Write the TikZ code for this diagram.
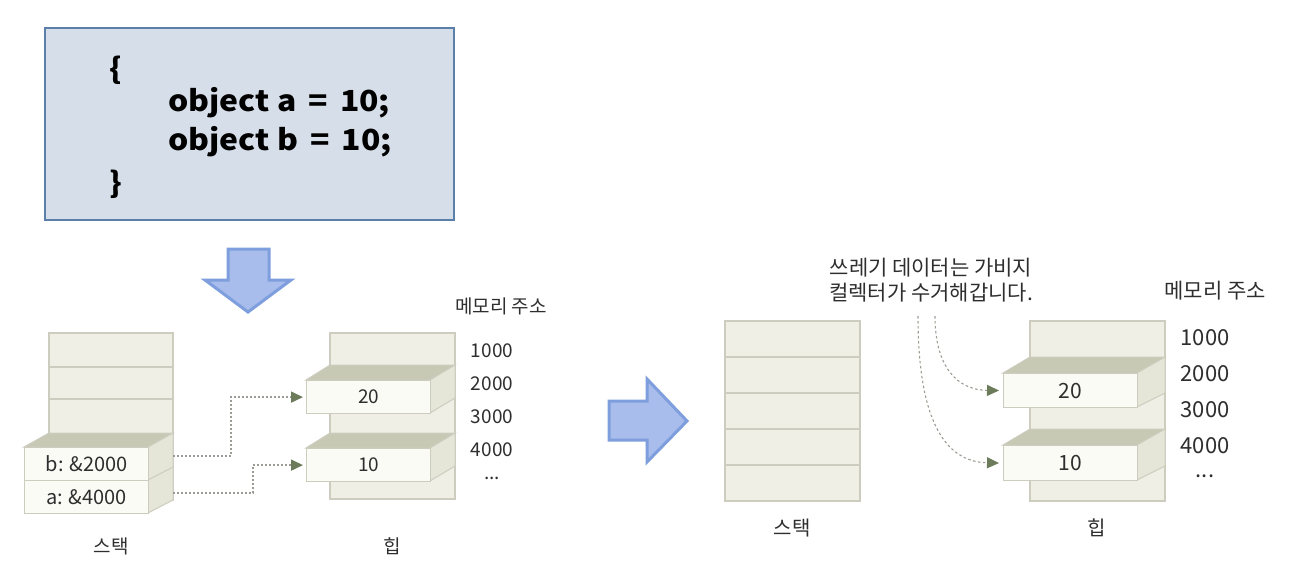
\documentclass[tikz,border=0pt]{standalone}
\usepackage{fontspec}
\setmainfont{Noto Sans CJK KR}
\usetikzlibrary{arrows.meta}
\definecolor{codefill}{HTML}{D6DFE9}
\definecolor{codeline}{HTML}{5A7FA8}
\definecolor{arrfill}{HTML}{A8BDEB}
\definecolor{arrline}{HTML}{7E9EDD}
\definecolor{stackfill}{HTML}{EFEFE6}
\definecolor{edgec}{HTML}{CDCDBF}
\definecolor{topc}{HTML}{C8C9B4}
\definecolor{sidec}{HTML}{E6E6D8}
\definecolor{frontc}{HTML}{FBFBF6}
\definecolor{txtc}{HTML}{2E2E2E}
\definecolor{tipc}{HTML}{6C7B5A}
\definecolor{dotc}{HTML}{9C9C94}
\tikzset{
  backbox/.style={fill=stackfill,draw=edgec,line width=1.2pt},
  topface/.style={fill=topc,draw=edgec,line width=1pt},
  sideface/.style={fill=sidec,draw=edgec,line width=1pt},
  frontface/.style={fill=frontc,draw=edgec,line width=1.2pt,inner sep=0pt,anchor=north west,text=txtc},
  lbl/.style={text=txtc,inner sep=0pt},
  codetext/.style={anchor=west,inner sep=0pt,font=\fontsize{29}{32}\selectfont\bfseries\addfontfeatures{FakeStretch=1.1}},
  bigarrow/.style={fill=arrfill,draw=arrline,line width=3pt,line join=miter},
  ptr/.style={draw=dotc,line width=1.6pt,dash pattern=on 2pt off 2pt,-{Triangle[length=12pt,width=11pt,fill=tipc,color=tipc]}},
  gcline/.style={draw=dotc,line width=1.1pt,dash pattern=on 2.5pt off 2.5pt,-{Triangle[length=12pt,width=11pt,fill=tipc,color=tipc]}},
}
\begin{document}
\begin{tikzpicture}[x=1pt,y=-1pt]
\useasboundingbox (0,0) rectangle (1290,571);
% code box
\node[draw=codeline,fill=codefill,line width=2pt,minimum width=409pt,minimum height=192pt,anchor=north west,inner sep=0pt] (code) at (44,27) {};
\node[codetext] (ob) at (109,70) {\{};
\node[codetext] (la) at (168,103) {object a \,=\, 10;};
\node[codetext] (lb) at (168,142) {object b \,=\, 10;};
\node[codetext] (cb) at (109,184) {\}};
% down arrow
\draw[bigarrow] (228,249) -- (269,249) -- (269,280) -- (291,280) -- (248,312) -- (205,280) -- (228,280) -- cycle;
% right arrow
\draw[bigarrow] (609,401) -- (647,401) -- (647,379) -- (687,421) -- (647,462) -- (647,440) -- (609,440) -- cycle;

% ---------- left stack ----------
\draw[backbox] (49,333) rectangle (173,500);
\draw[draw=edgec,line width=1.2pt] (49,367) -- (173,367) (49,399) -- (173,399);
\draw[topface] (24,447) -- (148,447) -- (173,433) -- (49,433) -- cycle;
\draw[sideface] (148,447) -- (173,433) -- (173,500) -- (148,513) -- cycle;
\draw[draw=edgec,line width=1pt] (148,480) -- (173,467);
\node[frontface,minimum width=124pt,minimum height=33pt,font=\fontsize{20}{24}\selectfont] (sb) at (24,447) {b: \&2000};
\node[frontface,minimum width=124pt,minimum height=33pt,font=\fontsize{20}{24}\selectfont] (sa) at (24,480) {a: \&4000};
\node[lbl,font=\fontsize{19}{22}\selectfont] (stk1) at (111,546) {스택};

% ---------- left heap ----------
\draw[backbox] (330,333) rectangle (455,499);
\draw[topface] (306,380) -- (430,380) -- (455,365) -- (330,365) -- cycle;
\draw[sideface] (430,380) -- (455,365) -- (455,398) -- (430,413) -- cycle;
\node[frontface,minimum width=124pt,minimum height=33pt,font=\fontsize{19}{22}\selectfont] (h20) at (306,380) {20};
\draw[topface] (306,448) -- (430,448) -- (455,433) -- (330,433) -- cycle;
\draw[sideface] (430,448) -- (455,433) -- (455,466) -- (430,481) -- cycle;
\node[frontface,minimum width=124pt,minimum height=33pt,font=\fontsize{19}{22}\selectfont] (h10) at (306,448) {10};
\node[lbl,font=\fontsize{19}{22}\selectfont] (heap1) at (392,546) {힙};
\node[lbl,font=\fontsize{19}{22}\selectfont] (mem1) at (501,306) {메모리 주소};
\node[lbl,font=\fontsize{19}{22}\selectfont] (a11) at (492,351) {1000};
\node[lbl,font=\fontsize{19}{22}\selectfont] (a12) at (492,384) {2000};
\node[lbl,font=\fontsize{19}{22}\selectfont] (a13) at (492,417) {3000};
\node[lbl,font=\fontsize{19}{22}\selectfont] (a14) at (492,450) {4000};
\node[lbl,font=\fontsize{19}{22}\selectfont] (a15) at (492,478) {...};
% pointers
\coordinate (bp) at (173,456);
\coordinate (ap) at (173,493);
\draw[ptr,shorten >=3pt] (bp) -- (231,456) |- (h20.west);
\draw[ptr,shorten >=3pt] (ap) -- (253,493) |- (h10.west);

% ---------- right stack ----------
\draw[backbox] (725,321) rectangle (860,501);
\draw[draw=edgec,line width=1.2pt] (725,357) -- (860,357) (725,393) -- (860,393) (725,429) -- (860,429) (725,465) -- (860,465);
\node[lbl,font=\fontsize{20}{24}\selectfont] (stk2) at (792,528) {스택};

% ---------- right heap ----------
\draw[backbox] (1030,321) rectangle (1165,501);
\draw[topface] (1003,373) -- (1137,373) -- (1165,357) -- (1030,357) -- cycle;
\draw[sideface] (1137,373) -- (1165,357) -- (1165,393) -- (1137,407) -- cycle;
\node[frontface,minimum width=134pt,minimum height=34pt,font=\fontsize{21}{24}\selectfont] (r20) at (1003,373) {20};
\draw[topface] (1003,445) -- (1137,445) -- (1165,429) -- (1030,429) -- cycle;
\draw[sideface] (1137,445) -- (1165,429) -- (1165,466) -- (1137,480) -- cycle;
\node[frontface,minimum width=134pt,minimum height=35pt,font=\fontsize{21}{24}\selectfont] (r10) at (1003,445) {10};
\node[lbl,font=\fontsize{20}{24}\selectfont] (heap2) at (1097,528) {힙};
\node[lbl,font=\fontsize{21}{24}\selectfont] (mem2) at (1215,291) {메모리 주소};
\node[lbl,font=\fontsize{22}{26}\selectfont] (a21) at (1205,338) {1000};
\node[lbl,font=\fontsize{22}{26}\selectfont] (a22) at (1205,374) {2000};
\node[lbl,font=\fontsize{22}{26}\selectfont] (a23) at (1205,410) {3000};
\node[lbl,font=\fontsize{22}{26}\selectfont] (a24) at (1205,446) {4000};
\node[lbl,font=\fontsize{22}{26}\selectfont] (a25) at (1205,476) {...};
\node[lbl,font=\fontsize{21}{25}\selectfont,align=center] (gcnote) at (931,280) {쓰레기 데이터는 가비지\\컬렉터가 수거해갑니다.};
\coordinate (g1) at (935,316);
\coordinate (g2) at (918,316);
\draw[gcline,shorten >=4pt] (g1) .. controls (935,368) and (958,390) .. (r20.west);
\draw[gcline,shorten >=4pt] (g2) .. controls (918,430) and (950,462) .. (r10.west);
\end{tikzpicture}
\end{document}
